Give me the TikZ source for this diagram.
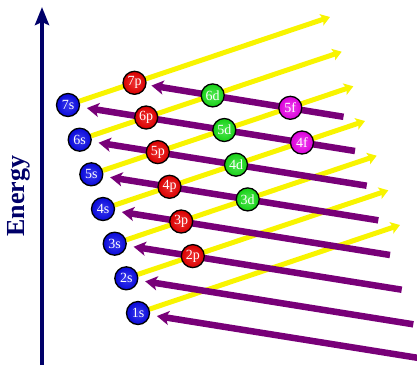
\documentclass[tikz,border=0pt]{standalone}
\usepackage{fontspec}
\setmainfont{Liberation Serif}
\usepackage{xcolor}
\usepackage{tikz}
\usetikzlibrary{arrows.meta, calc, backgrounds}
\definecolor{navy}{RGB}{0,0,105}
\definecolor{sblue}{RGB}{10,10,235}
\definecolor{pred}{RGB}{235,0,0}
\definecolor{dgreen}{RGB}{25,225,25}
\definecolor{fmagenta}{RGB}{235,0,235}
\definecolor{fillyellow}{RGB}{248,244,0}
\definecolor{fillpurple}{RGB}{120,0,120}
\tikzstyle{axis}    = [line width=4.5pt, draw=navy, -{Stealth[length=18pt,width=14pt,inset=3pt]}]
\tikzstyle{yarrow}  = [line width=5pt, draw=fillyellow, -{Stealth[length=9pt,width=12pt,inset=2pt]}]
\tikzstyle{parrow}  = [line width=6.5pt, draw=fillpurple, shorten >=7pt, -{Stealth[length=12pt,width=14pt,inset=3pt]}]
\tikzstyle{orbital} = [circle, draw=black, line width=1.3pt, minimum size=23pt, inner sep=0pt, text=white, font=\fontsize{14}{14}\selectfont]
\tikzstyle{sorb}    = [orbital, inner color=sblue!80!white, outer color=sblue!92!black]
\tikzstyle{porb}    = [orbital, inner color=pred!80!white, outer color=pred!92!black]
\tikzstyle{dorb}    = [orbital, inner color=dgreen!75!white, outer color=dgreen!92!black]
\tikzstyle{forb}    = [orbital, inner color=fmagenta!75!white, outer color=fmagenta!92!black]
\tikzset{every node/.style={align=center}}

\begin{document}
\begin{tikzpicture}[x=1pt, y=-1pt]
    \useasboundingbox (0,0) rectangle (417,365);

    % energy axis
    \coordinate (axbot) at (42,365);
    \coordinate (axtop) at (42,7);
    \draw [axis] (axbot) -- (axtop);
    \node (energy) at (19,196) [rotate=90, text=navy, font=\bfseries\fontsize{26}{26}\selectfont] {Energy};

    % orbitals
    \node (s1) at (138,313)     [sorb] {1s};
    \node (s2) at (126.3,278.3) [sorb] {2s};
    \node (s3) at (114.7,243.7) [sorb] {3s};
    \node (s4) at (103,209)     [sorb] {4s};
    \node (s5) at (91.3,174.3)  [sorb] {5s};
    \node (s6) at (79.7,139.7)  [sorb] {6s};
    \node (s7) at (68,105)      [sorb] {7s};
    \node (p2) at (192.8,256.1) [porb] {2p};
    \node (p3) at (181.2,221.5) [porb] {3p};
    \node (p4) at (169.5,186.8) [porb] {4p};
    \node (p5) at (157.8,152.1) [porb] {5p};
    \node (p6) at (146.2,117.5) [porb] {6p};
    \node (p7) at (134.5,82.8)  [porb] {7p};
    \node (d3) at (247.7,199.4) [dorb] {3d};
    \node (d4) at (236,164.7)   [dorb] {4d};
    \node (d5) at (224.3,130)   [dorb] {5d};
    \node (d6) at (212.7,95.4)  [dorb] {6d};
    \node (f4) at (302,142.5)   [forb] {4f};
    \node (f5) at (290.3,107.8) [forb] {5f};

    % free ends
    \coordinate (y1) at ($(s1)+(262,-88)$);
    \coordinate (y2) at ($(s2)+(262,-88)$);
    \coordinate (y3) at ($(s3)+(262,-88)$);
    \coordinate (y4) at ($(s4)+(262,-88)$);
    \coordinate (y5) at ($(s5)+(262,-88)$);
    \coordinate (y6) at ($(s6)+(262,-88)$);
    \coordinate (y7) at ($(s7)+(262,-88)$);
    \coordinate (e1) at ($(s1)+(287,46)$);
    \coordinate (e2) at ($(s2)+(287,46)$);
    \coordinate (e3) at ($(s3)+(287,46)$);
    \coordinate (e4) at ($(s4)+(287,46)$);
    \coordinate (e5) at ($(s5)+(287,46)$);
    \coordinate (e6) at ($(s6)+(287,46)$);
    \coordinate (e7) at ($(s7)+(287,46)$);
    \coordinate (e8) at ($(p7)+(209,34)$);

    \begin{scope}[on background layer]
        \draw [yarrow] (s1) -- (y1);
        \draw [yarrow] (s2) -- (y2);
        \draw [yarrow] (s3) -- (y3);
        \draw [yarrow] (s4) -- (y4);
        \draw [yarrow] (s5) -- (y5);
        \draw [yarrow] (s6) -- (y6);
        \draw [yarrow] (s7) -- (y7);
        \draw [parrow] (e1) -- (s1);
        \draw [parrow] (e2) -- (s2);
        \draw [parrow] (e3) -- (s3);
        \draw [parrow] (e4) -- (s4);
        \draw [parrow] (e5) -- (s5);
        \draw [parrow] (e6) -- (s6);
        \draw [parrow] (e7) -- (s7);
        \draw [parrow, shorten >=5pt] (e8) -- (p7);
    \end{scope}
\end{tikzpicture}
\end{document}
